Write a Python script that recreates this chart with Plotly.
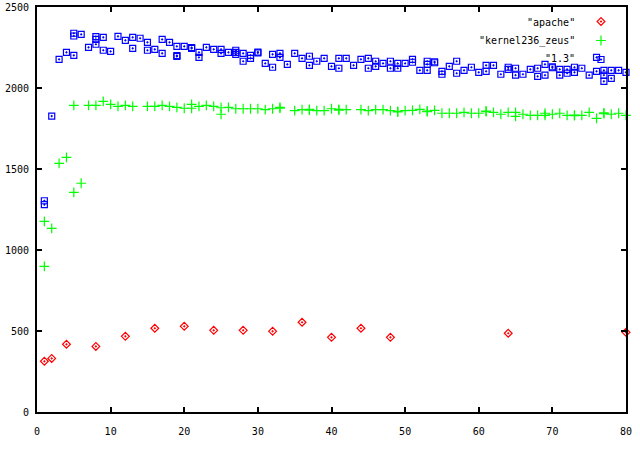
import plotly.graph_objects as go

# "apache" (rouge, losanges)
apache_x = [1, 2, 4, 8, 12, 16, 20, 24, 28, 32, 36, 40, 44, 48, 64, 80]
apache_y = [313, 331, 418, 405, 467, 517, 529, 504, 504, 498, 554, 461, 517, 461, 486, 492]

# "kernel236_zeus" (vert, croix)
zeus_x = [1, 1, 2, 3, 4, 5, 5, 6, 7, 8, 9, 10, 11, 12, 13, 15, 16, 17, 18, 19, 20,
          21, 21, 22, 23, 24, 25, 25, 26, 27, 28, 29, 30, 31, 32, 33, 33, 35, 36,
          37, 37, 38, 39, 40, 41, 41, 42, 44, 45, 46, 47, 48, 49, 49, 50, 51, 52,
          53, 53, 54, 55, 56, 57, 58, 59, 60, 61, 61, 62, 63, 64, 65, 65, 66, 67,
          68, 69, 69, 70, 71, 72, 73, 73, 74, 75, 76, 77, 77, 78, 79, 80]
zeus_y = [1177, 899, 1134, 1535, 1572, 1356, 1893, 1412, 1893, 1893, 1918, 1899, 1887,
          1893, 1887, 1887, 1887, 1893, 1887, 1881, 1875, 1899, 1875, 1887, 1893, 1887,
          1878, 1838, 1881, 1872, 1872, 1872, 1872, 1866, 1872, 1880, 1876, 1860, 1866,
          1868, 1864, 1860, 1860, 1872, 1868, 1864, 1866, 1866, 1860, 1866, 1866, 1860,
          1856, 1852, 1860, 1862, 1868, 1858, 1854, 1862, 1844, 1844, 1844, 1850, 1844,
          1844, 1858, 1854, 1850, 1838, 1850, 1850, 1825, 1838, 1831, 1831, 1844, 1831,
          1838, 1844, 1831, 1833, 1829, 1831, 1850, 1813, 1846, 1842, 1838, 1844, 1831]

# "1.3" (bleu, carrés)
v13_x = [1, 1, 2, 3, 4, 5, 5, 5, 6, 7, 8, 8, 8, 9, 9, 10, 11, 12, 13, 13, 14, 15, 15,
         16, 17, 17, 18, 19, 19, 19, 20, 21, 21, 22, 22, 23, 24, 25, 25, 26, 27, 27, 27,
         28, 28, 29, 29, 30, 30, 31, 32, 32, 33, 33, 34, 35, 36, 37, 37, 38, 39, 40, 41,
         41, 42, 43, 44, 45, 45, 46, 46, 47, 48, 48, 49, 49, 50, 51, 51, 52, 53, 53, 53,
         54, 54, 55, 55, 56, 57, 57, 58, 59, 60, 61, 61, 62, 63, 64, 64, 65, 65, 66, 67,
         68, 68, 69, 69, 70, 70, 71, 71, 72, 72, 73, 73, 74, 75, 76, 76, 77, 77, 77, 78,
         78, 79, 80]
v13_y = [1304, 1280, 1827, 2177, 2220, 2338, 2321, 2202, 2331, 2251, 2317, 2300, 2270,
         2313, 2233, 2226, 2319, 2294, 2313, 2245, 2307, 2282, 2233, 2239, 2300, 2214,
         2282, 2257, 2200, 2195, 2257, 2250, 2244, 2220, 2189, 2251, 2239, 2239, 2214,
         2220, 2233, 2220, 2208, 2214, 2165, 2202, 2183, 2222, 2217, 2152, 2208, 2128,
         2214, 2189, 2146, 2214, 2183, 2196, 2140, 2165, 2183, 2134, 2183, 2122, 2183,
         2140, 2177, 2183, 2122, 2165, 2134, 2152, 2165, 2122, 2152, 2122, 2152, 2177,
         2159, 2109, 2165, 2146, 2109, 2162, 2156, 2103, 2085, 2134, 2165, 2091, 2109,
         2128, 2097, 2140, 2103, 2140, 2085, 2128, 2115, 2122, 2079, 2085, 2115, 2122,
         2072, 2146, 2079, 2131, 2125, 2115, 2079, 2115, 2091, 2128, 2097, 2122, 2079,
         2103, 2189, 2109, 2079, 2041, 2109, 2060, 2109, 2097]

series = [
    ('"apache"', apache_x, apache_y, "diamond-open-dot", "#ff0000", 6),
    ('"kernel236_zeus"', zeus_x, zeus_y, "cross-thin", "#00ff00", 7),
    ('"1.3"', v13_x, v13_y, "square-open-dot", "#0000ff", 6),
]

police = dict(family="DejaVu Sans Mono", size=10, color="black")

fig = go.Figure()
for i, (nom, xs, ys, symbole, couleur, taille) in enumerate(series):
    fig.add_trace(go.Scatter(
        x=xs, y=ys, mode="markers", name=" ",
        legendgroup=str(i),
        marker=dict(symbol=symbole, size=taille, color=couleur,
                    line=dict(color=couleur, width=1.2)),
        cliponaxis=False,
    ))

# textes de la légende, alignés à droite comme dans gnuplot
for i, (nom, *_rest) in enumerate(series):
    fig.add_annotation(
        text=nom, xref="paper", yref="paper",
        x=0.917, y=0.9605 - i * 0.0444,
        xanchor="right", yanchor="middle", showarrow=False, font=police,
    )

axe = dict(
    showline=True, linecolor="black", linewidth=2, mirror="ticks",
    ticks="inside", ticklen=5, tickwidth=2, tickcolor="black",
    showgrid=False, zeroline=False, tickfont=police, automargin=False,
)

fig.update_layout(
    width=640, height=450,
    margin=dict(l=37, r=14, t=7, b=38),
    plot_bgcolor="white", paper_bgcolor="white",
    xaxis=dict(range=[0, 80], dtick=10, ticklabelstandoff=9, **axe),
    yaxis=dict(range=[0, 2500], dtick=500, ticklabelstandoff=4, **axe),
    legend=dict(x=0.9236, y=1.0, xanchor="left", yanchor="top",
                bgcolor="rgba(0,0,0,0)", font=police, tracegroupgap=0,
                itemwidth=30),
    showlegend=True,
)

# pas de marge autour de la page, comme une image png
fig.write_html("out.html", config={"displayModeBar": False},
               post_script="document.body.style.margin='0px';")
